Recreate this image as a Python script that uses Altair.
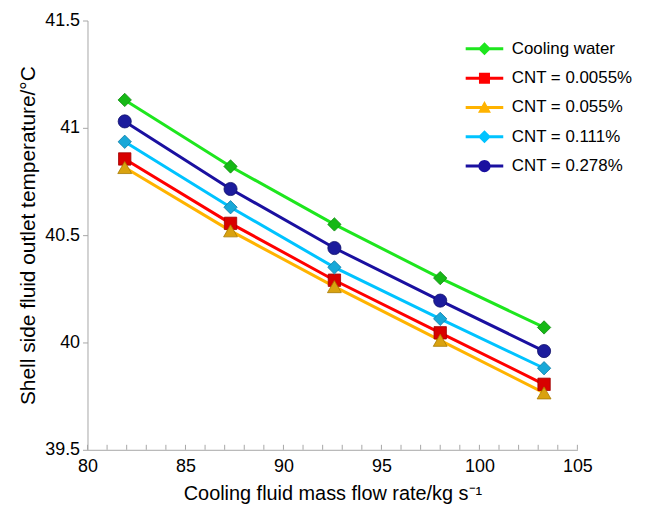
import altair as alt
import pandas as pd

series = ["Cooling water", "CNT = 0.0055%", "CNT = 0.055%", "CNT = 0.111%", "CNT = 0.278%"]
flow = [81.9, 87.3, 92.6, 98.0, 103.3]
cooling_water = [41.13, 40.82, 40.55, 40.30, 40.07]
cnt_00055 = [40.855, 40.555, 40.29, 40.045, 39.805]
cnt_0055 = [40.815, 40.52, 40.26, 40.01, 39.765]
cnt_0111 = [40.935, 40.63, 40.35, 40.11, 39.88]
cnt_0278 = [41.03, 40.715, 40.44, 40.195, 39.96]
x_labels = [80, 85, 90, 95, 100, 105]
x_minor = list(range(80, 106))
y_labels = [39.5, 40, 40.5, 41, 41.5]

all_vals = [cooling_water, cnt_00055, cnt_0055, cnt_0111, cnt_0278]
rows = []
for s, vals in zip(series, all_vals):
    for f, v in zip(flow, vals):
        rows.append({"series": s, "flow": f, "temp": v})
df = pd.DataFrame(rows)
ticks_df = pd.DataFrame({"flow": x_minor})

line_colors = ["#1ee61e", "#ff0000", "#ffb300", "#00c3ff", "#1a10a0"]
marker_fill = ["#16b816", "#d80000", "#d9a20f", "#18a8d8", "#1c1c9c"]
marker_stroke = ["#0e8a0e", "#a00000", "#a87a00", "#0f7ca6", "#10106a"]
marker_shapes = ["diamond", "square", "triangle-up", "diamond", "circle"]
marker_sizes = [180, 155, 195, 180, 175]

LINE = "M-2.9,-0.23H2.9V0.23H-2.9Z"
legend_paths = [
    LINE + "M0,-1L1,0L0,1L-1,0Z",
    LINE + "M-0.85,-0.85H0.85V0.85H-0.85Z",
    LINE + "M0,-1L1,0.8H-1Z",
    LINE + "M0,-1L1,0L0,1L-1,0Z",
    LINE + "M-0.95,0A0.95,0.95 0 1,1 0.95,0A0.95,0.95 0 1,1 -0.95,0Z",
]

FONT = "Liberation Sans"
W, H = 493, 432
xs = alt.Scale(domain=[80, 105], nice=False, zero=False)
ys = alt.Scale(domain=[39.5, 41.5], nice=False, zero=False)
grey = "#a6a6a6"

x_axis = alt.Axis(
    values=x_labels, ticks=False, grid=False, domainColor=grey, labelFlush=False,
    labelFontSize=18, labelColor="black", labelFont=FONT, labelPadding=8,
    title="Cooling fluid mass flow rate/kg s\u207b\u00b9", titleFontSize=20,
    titleFont=FONT, titleFontWeight="normal", titleColor="black", titlePadding=8)
y_axis = alt.Axis(
    values=y_labels, format="~f", grid=False, domainColor=grey, tickColor=grey,
    tickSize=5, labelFontSize=18, labelColor="black", labelFont=FONT, labelPadding=3,
    title="Shell side fluid outlet temperature/\u00b0C", titleFontSize=21,
    titleFont=FONT, titleFontWeight="normal", titleColor="black", titlePadding=6)

x_enc = alt.X("flow:Q", scale=xs, axis=x_axis)
y_enc = alt.Y("temp:Q", scale=ys, axis=y_axis)

base = alt.Chart(df)
color_scale = alt.Scale(domain=series, range=line_colors)

ticks = alt.Chart(ticks_df).mark_rule(color=grey, strokeWidth=1).encode(
    x=x_enc, y=alt.value(H), y2=alt.value(H - 5))

line_layers = []
for s, lc in zip(series, line_colors):
    line_layers.append(
        base.transform_filter(alt.datum.series == s)
        .mark_line(strokeWidth=3, color=lc)
        .encode(x=x_enc, y=y_enc)
    )

point_layers = []
for s, shp, fc, sc, sz in zip(series, marker_shapes, marker_fill, marker_stroke, marker_sizes):
    point_layers.append(
        base.transform_filter(alt.datum.series == s).mark_point(
            filled=True, shape=shp, size=sz, fill=fc, stroke=sc, strokeWidth=0.8, opacity=1
        ).encode(x=x_enc, y=y_enc)
    )

leg = alt.Legend(
    title=None, orient="none", legendX=391, legendY=20, symbolSize=170,
    symbolStrokeWidth=0, symbolOpacity=1, labelFontSize=17, labelFont=FONT,
    labelColor="black", labelOffset=19, rowPadding=11.5, labelLimit=300,
)
legend_layer = base.mark_point(filled=True, opacity=0, size=170).encode(
    x=x_enc, y=y_enc,
    color=alt.Color("series:N", scale=color_scale, legend=leg),
    shape=alt.Shape("series:N", scale=alt.Scale(domain=series, range=legend_paths), legend=leg),
)

chart = alt.layer(*line_layers, ticks, *point_layers, legend_layer).properties(
    width=W, height=H, padding={"left": 9, "top": 2, "right": 5, "bottom": 5},
    background="white",
).configure_view(stroke=None)

chart.save("out.html", embed_options={"renderer": "svg", "actions": False})
